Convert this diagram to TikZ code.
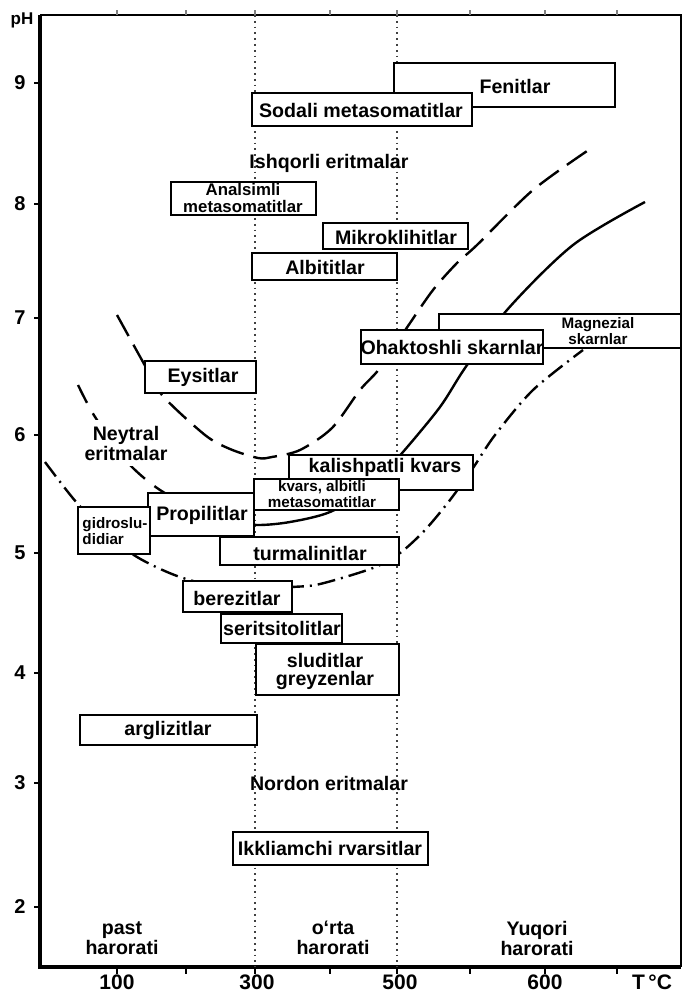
\documentclass[tikz,border=0pt]{standalone}
\usepackage{fontspec}
\setmainfont{Liberation Sans}
\usetikzlibrary{positioning}
\tikzset{
  zona/.style={draw,line width=1.3pt,fill=white},
  yoz/.style={font=\bfseries\fontsize{9.8}{10}\selectfont,inner sep=1pt,align=center},
  kichik/.style={font=\bfseries\fontsize{7.6}{7.6}\selectfont,inner sep=1pt,align=center},
  son/.style={font=\bfseries\fontsize{10}{11}\selectfont,inner sep=1pt},
  xson/.style={font=\bfseries\fontsize{10.5}{10.5}\selectfont,inner sep=0pt},
  chiz/.style={line width=1.2pt},
  nuqta/.style={line width=0.9pt,dotted,black!75},
}

\begin{document}
\begin{tikzpicture}[x=0.5pt,y=-0.5pt]
	\useasboundingbox (0,0) rectangle (686,994);
	
	\draw[line width=0.8pt] (40,15) -- (681,15) -- (681,967);
	\draw[line width=1.6pt] (40,15) -- (40,967) -- (681,967);
	\draw[nuqta] (255,15) -- (255,967);
	\draw[nuqta] (397,15) -- (397,967);
	\foreach \y/\ph in {83/9,204/8,318/7,435/6,553/5,673/4,783/3,907/2}{
		\draw[line width=0.8pt] (34,\y) -- (40,\y);
		\node[son] (ph\ph) at (20,\y) {\ph};
	}
	\foreach \x in {117,186,255,330,397,470,545,617}{
		\draw[line width=0.8pt] (\x,967) -- (\x,974);
		\draw[line width=0.6pt,black!50] (\x,15) -- (\x,10);
	}
	\node[son,font=\bfseries\fontsize{8.5}{9}\selectfont] (ph) at (22,20) {pH};
	\node[xson] (t100) at (117,982) {100};
	\node[xson] (t300) at (257,982) {300};
	\node[xson] (t500) at (400,982) {500};
	\node[xson] (t600) at (545,982) {600};
	\node[xson] (tc) at (652,982) {T\,°C};
	
	\draw[chiz,dash pattern=on 12pt off 5pt] plot[smooth] coordinates {(117,315) (143,362) (162,395) (205,435) (230,449) (258,458) (272,457) (300,450) (332,428) (360,390) (380,368) (408,326) (433,290) (457,263) (477,245) (533,190) (593,147)};
	\draw[chiz,dash pattern=on 10pt off 6pt] plot[smooth] coordinates {(78,385) (92,412) (112,442) (133,468) (160,490) (200,512) (230,522)};
	\draw[chiz] plot[smooth] coordinates {(225,521) (257,525) (290,522) (330,512) (370,488) (403,452) (440,407) (465,368) (507,310) (573,245) (645,202)};
	\draw[chiz,dash pattern=on 9pt off 3pt on 1pt off 3pt] plot[smooth] coordinates {(45,462) (77,503) (110,535) (137,557) (180,577) (235,590) (292,587) (320,584) (373,568) (400,553) (425,530) (450,500) (473,468) (495,435) (533,390) (583,350)};
	
	\draw[zona] (394,63) rectangle (615,107);
	\node[yoz] (fen) at (515,86) {Fenitlar};
	\draw[zona] (252,93) rectangle (472,126);
	\node[yoz] (sod) at (361,110) {Sodali metasomatitlar};
	\node[yoz] (ishq) at (329,163) {Ishqorli eritmalar};
	\draw[zona] (171,182) rectangle (316,215);
	\node[kichik,font=\bfseries\fontsize{8.4}{8.4}\selectfont] (anal) at (243,198) {Analsimli\\metasomatitlar};
	\draw[zona] (323,223) rectangle (468,249);
	\node[yoz] (mikro) at (396,237) {Mikroklihitlar};
	\draw[zona] (252,253) rectangle (397,280);
	\node[yoz] (albit) at (325,267) {Albititlar};
	\draw[zona] (439,314) rectangle (681,348);
	\node[kichik] (magn) at (598,331) {Magnezial\\skarnlar};
	\draw[zona] (361,330) rectangle (543,364);
	\node[yoz] (ohak) at (452,347) {Ohaktoshli skarnlar};
	\draw[zona] (145,361) rectangle (256,393);
	\node[yoz] (eys) at (203,377) {Eysitlar};
	\node[yoz,fill=white,inner sep=3pt] (neyt) at (126,443) {Neytral\\eritmalar};
	\draw[zona] (289,455) rectangle (473,490);
	\node[yoz] (kalish) at (385,467) {kalishpatli kvars};
	\draw[zona] (254,479) rectangle (399,510);
	\node[kichik] (kvars) at (322,494) {kvars, albitli\\metasomatitlar};
	\draw[zona] (148,493) rectangle (254,536);
	\node[yoz] (prop) at (202,515) {Propilitlar};
	\draw[zona] (78,507) rectangle (150,554);
	\node[kichik,align=left] (gidro) at (115,531) {gidroslu-\\didiar};
	\draw[zona] (220,537) rectangle (399,565);
	\node[yoz] (turm) at (310,553) {turmalinitlar};
	\draw[zona] (183,581) rectangle (292,612);
	\node[yoz] (berez) at (237,598) {berezitlar};
	\draw[zona] (221,614) rectangle (342,643);
	\node[yoz] (serit) at (282,628) {seritsitolitlar};
	\draw[zona] (256,644) rectangle (399,695);
	\node[yoz,font=\bfseries\fontsize{9.8}{9}\selectfont] (slud) at (325,671) {sluditlar\\greyzenlar};
	\draw[zona] (80,715) rectangle (257,745);
	\node[yoz] (argl) at (168,730) {arglizitlar};
	\node[yoz] (nordon) at (329,783) {Nordon eritmalar};
	\draw[zona] (233,832) rectangle (428,865);
	\node[yoz] (ikki) at (330,848) {Ikkliamchi rvarsitlar};
	
	\node[yoz] (past) at (122,938) {past\\harorati};
	\node[yoz] (orta) at (333,938) {o`rta\\harorati};
	\node[yoz] (yuq) at (537,938) {Yuqori\\harorati};

\end{tikzpicture}
\end{document}
